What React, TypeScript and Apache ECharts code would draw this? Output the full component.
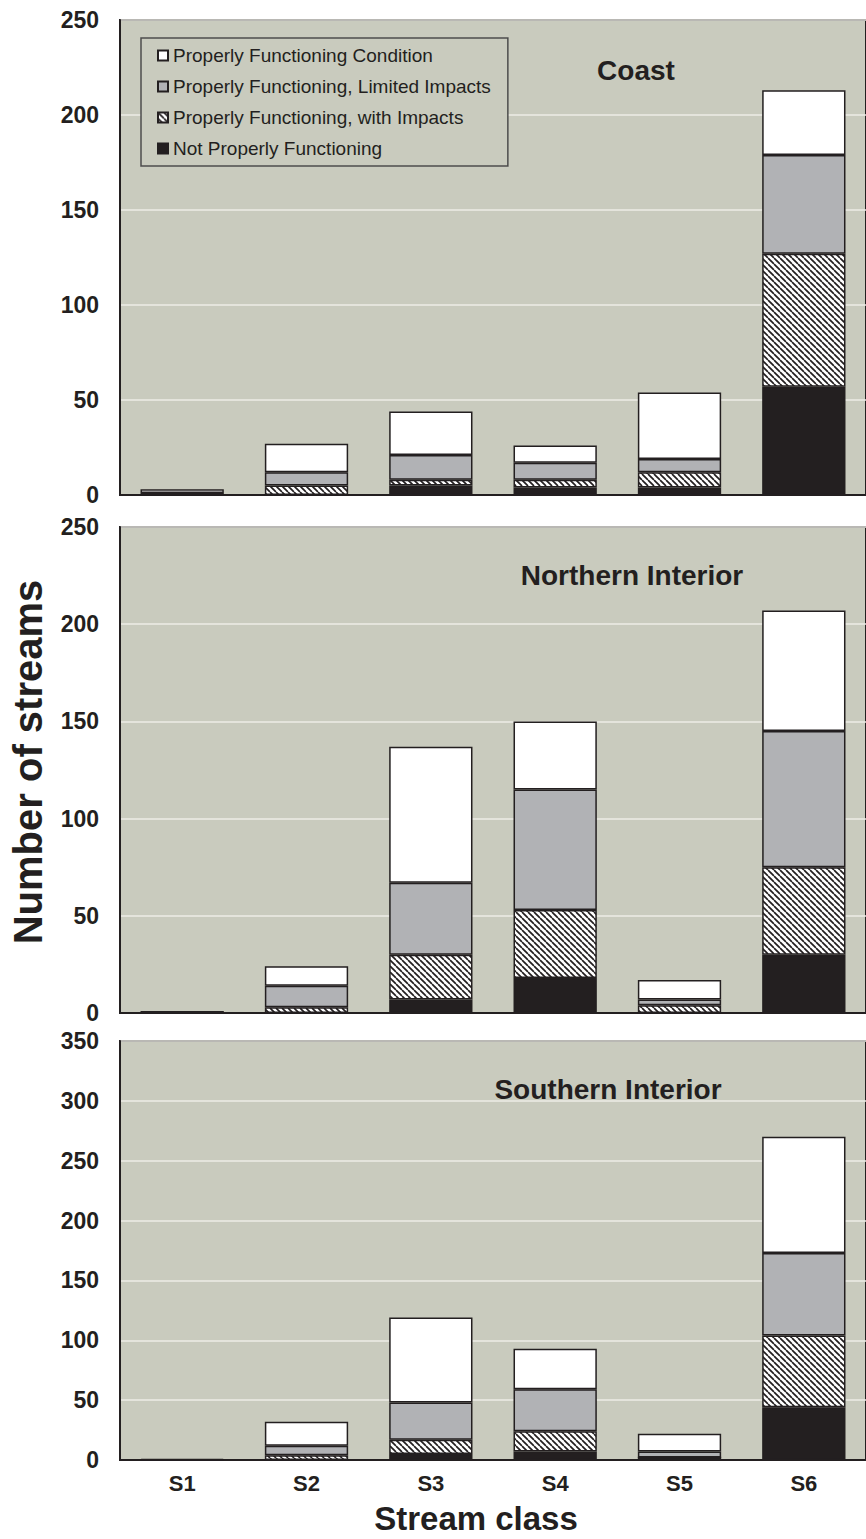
import React, { useEffect, useRef } from 'react';
import * as echarts from 'echarts';

const categories = ['S1', 'S2', 'S3', 'S4', 'S5', 'S6'];
const seriesNames = [
  'Properly Functioning Condition',
  'Properly Functioning, Limited Impacts',
  'Properly Functioning, with Impacts',
  'Not Properly Functioning',
];
const panelTitles = ['Coast', 'Northern Interior', 'Southern Interior'];
const yMaxes = [250, 250, 350];

// Coast
const coastPFC = [2, 15, 23, 9, 35, 34];
const coastPFLI = [1, 7, 13, 9, 7, 52];
const coastPFwI = [0, 5, 3, 4, 8, 70];
const coastNPF = [0, 0, 5, 4, 4, 57];
// Northern Interior
const northPFC = [1, 10, 70, 35, 10, 62];
const northPFLI = [0, 11, 37, 62, 3, 70];
const northPFwI = [0, 3, 23, 35, 4, 45];
const northNPF = [0, 0, 7, 18, 0, 30];
// Southern Interior
const southPFC = [1, 20, 71, 34, 15, 97];
const southPFLI = [0, 8, 31, 35, 5, 69];
const southPFwI = [0, 4, 12, 17, 0, 60];
const southNPF = [0, 0, 5, 7, 2, 44];

const FONT = '"Liberation Sans", Arial, Helvetica, sans-serif';
const DARK = '#231f20';
const BG = '#c9cbbe';

function makeHatch() {
  const s = 6;
  const c = document.createElement('canvas');
  c.width = s;
  c.height = s;
  const ctx = c.getContext('2d')!;
  ctx.fillStyle = '#ffffff';
  ctx.fillRect(0, 0, s, s);
  ctx.strokeStyle = DARK;
  ctx.lineWidth = 1.7;
  for (const k of [-s, 0, s]) {
    ctx.beginPath();
    ctx.moveTo(k, 0);
    ctx.lineTo(k + s, s);
    ctx.stroke();
  }
  return c.toDataURL();
}

export default function App() {
  const ref = useRef<HTMLDivElement>(null);
  useEffect(() => {
    if (!ref.current) return;
    const chart = echarts.init(ref.current, null, { renderer: 'svg' });
    const hatch = { image: makeHatch(), repeat: 'repeat', imageWidth: 6, imageHeight: 6 } as any;

    const panels = [
      [coastNPF, coastPFwI, coastPFLI, coastPFC],
      [northNPF, northPFwI, northPFLI, northPFC],
      [southNPF, southPFwI, southPFLI, southPFC],
    ];
    const fills = [DARK, hatch, '#b1b2b5', '#ffffff'];
    const names = [seriesNames[3], seriesNames[2], seriesNames[1], seriesNames[0]];

    const grids = [
      { left: 120, top: 20, width: 753, height: 475 },
      { left: 120, top: 527, width: 753, height: 486 },
      { left: 120, top: 1041, width: 753, height: 419 },
    ].map((g) => ({
      ...g,
      show: true,
      backgroundColor: BG,
      borderColor: DARK,
      borderWidth: 2,
    }));

    const xAxes = grids.map((_, i) => ({
      type: 'category',
      gridIndex: i,
      data: categories,
      axisLine: { show: true, lineStyle: { color: DARK, width: 2 } },
      axisTick: { show: false },
      axisLabel: {
        show: i === 2,
        fontFamily: FONT,
        fontWeight: 'bold',
        fontSize: 22,
        color: DARK,
        margin: 12,
      },
    }));

    const yAxes = grids.map((_, i) => ({
      type: 'value',
      gridIndex: i,
      min: 0,
      max: yMaxes[i],
      interval: 50,
      axisLine: { show: true, lineStyle: { color: DARK, width: 2 } },
      axisTick: { show: false },
      axisLabel: {
        fontFamily: FONT,
        fontWeight: 'bold',
        fontSize: 23,
        color: DARK,
        margin: 21,
      },
      splitLine: { show: true, lineStyle: { color: '#ecece6', width: 1.5 } },
    }));

    const series: any[] = [];
    panels.forEach((p, gi) => {
      p.forEach((vals, si) => {
        series.push({
          type: 'bar',
          name: names[si],
          xAxisIndex: gi,
          yAxisIndex: gi,
          stack: 'p' + gi,
          barWidth: '67%',
          data: vals,
          itemStyle: { color: fills[si], borderColor: DARK, borderWidth: 1.5 },
        });
      });
    });

    const graphic: any[] = [];
    const titlePos = [
      [636, 70],
      [632, 575],
      [608, 1089],
    ];
    panelTitles.forEach((t, i) => {
      graphic.push({
        type: 'text',
        x: titlePos[i][0],
        y: titlePos[i][1],
        z: 100,
        style: {
          text: t,
          font: `bold 28px ${FONT}`,
          fill: DARK,
          textAlign: 'center',
          textVerticalAlign: 'middle',
        },
      });
    });
    graphic.push({
      type: 'text',
      x: 28,
      y: 762,
      rotation: Math.PI / 2,
      style: {
        text: 'Number of streams',
        font: `bold 40px ${FONT}`,
        fill: DARK,
        textAlign: 'center',
        textVerticalAlign: 'middle',
      },
    });
    graphic.push({
      type: 'text',
      x: 476,
      y: 1518,
      style: {
        text: 'Stream class',
        font: `bold 33px ${FONT}`,
        fill: DARK,
        textAlign: 'center',
        textVerticalAlign: 'middle',
      },
    });

    chart.setOption({
      animation: false,
      backgroundColor: '#ffffff',
      grid: grids,
      xAxis: xAxes,
      yAxis: yAxes,
      legend: {
        data: seriesNames,
        orient: 'vertical',
        left: 141,
        top: 38,
        padding: [8, 17, 8, 16],
        itemGap: 12,
        itemWidth: 10,
        itemHeight: 10,
        icon: 'rect',
        backgroundColor: BG,
        borderColor: '#4d4d4d',
        borderWidth: 1.5,
        textStyle: { fontFamily: FONT, fontSize: 19, color: DARK },
        z: 50,
      },
      series,
      graphic,
    });
    return () => chart.dispose();
  }, []);
  return (
    <div
      ref={ref}
      style={{ position: 'fixed', left: 0, top: 0, width: 866, height: 1539 }}
    />
  );
}
